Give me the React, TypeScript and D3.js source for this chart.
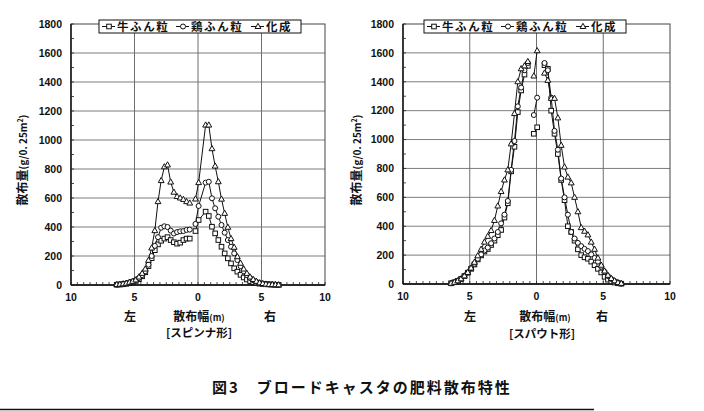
import React from 'react';
import * as d3 from 'd3';

// ---------- data ----------
// distance from centre (m); left = negative. null rows are gaps in the lines.
const spinnerX = [
  -6.4, -6.15, -5.9, -5.65, -5.4, -5.15, -4.9, -4.65, -4.4, -4.15, -3.9, -3.65,
  -3.4, -3.15, -2.9, -2.65, -2.4, -2.15, -1.9, -1.65, -1.4, -1.15, -0.9, -0.65,
  -0.4,
  -0.2, 0.05,
  0.6, 0.85, 1.1, 1.35, 1.6, 1.85, 2.1, 2.35, 2.6, 2.85, 3.1, 3.35,
  3.6, 3.85, 4.1, 4.35, 4.6, 4.85, 5.1, 5.35, 5.6, 5.85, 6.1, 6.35,
];
const spinnerCow = [
  2, 3, 5, 8, 12, 20, 28, 40, 60, 88, 130, 185,
  240, 280, 305, 320, 330, 310, 295, 285, 292, 310, 320, 320,
  null,
  372, 448,
  506, 476, 402, 356, 310, 264, 218, 184, 149, 115, 92, 70,
  52, 38, 27, 19, 13, 9, 7, 5, 4, 3, 2, 1,
];
const spinnerChicken = [
  3, 5, 8, 12, 18, 25, 35, 48, 68, 95, 140, 200,
  270, 330, 395, 405, 400, 375, 355, 365, 370, 372, 380, 382,
  null,
  421, 545,
  706, 712, 598, 529, 471, 414, 361, 310, 264, 218, 172, 130,
  95, 68, 48, 33, 22, 14, 9, 6, 4, 3, 2, 1,
];
const spinnerChem = [
  3, 5, 8, 12, 18, 25, 35, 55, 80, 110, 170, 255,
  375, 575, 720, 815, 828, 710, 640, 610, 600, 590, 575, 565,
  null,
  593, 706,
  1103, 1103, 940, 820, 712, 592, 494, 398, 320, 260, 195, 150,
  110, 80, 55, 38, 25, 15, 10, 6, 4, 3, 2, 1,
];

const spoutX = [
  -6.4, -6.15, -5.9, -5.65, -5.4, -5.15, -4.9, -4.65, -4.4, -4.15, -3.9, -3.65,
  -3.4, -3.15, -2.9, -2.65, -2.4, -2.15, -1.9, -1.65, -1.4, -1.15, -0.9, -0.65,
  -0.4,
  -0.2, 0.05,
  0.35,
  0.6, 0.85, 1.1, 1.35, 1.6, 1.85, 2.1, 2.35, 2.6, 2.85, 3.1, 3.35,
  3.6, 3.85, 4.1, 4.35, 4.6, 4.85, 5.1, 5.35, 5.6, 5.85, 6.1, 6.35,
];
const spoutCow = [
  5, 12, 22, 35, 55, 78, 105, 135, 170, 198, 225, 242,
  270, 300, 338, 374, 460, 559, 780, 950, 1190, 1340, 1450, 1510,
  null,
  1040, 1085,
  null,
  1515, 1490, 1200, 1040, 900, 720, 580, 400, 360, 300, 240, 200,
  185, 175, 155, 130, 105, 80, 50, 30, 18, 10, 5, 2,
];
const spoutChicken = [
  5, 12, 22, 36, 56, 80, 110, 140, 175, 205, 232, 252,
  282, 315, 360, 420, 480, 575, 790, 990, 1230, 1360, 1480, 1530,
  null,
  1170, 1290,
  null,
  1530, 1480, 1290, 1060, 930, 730, 600, 480, 360, 315, 285, 262,
  243, 228, 205, 180, 155, 120, 85, 55, 35, 20, 9, 3,
];
const spoutChem = [
  5, 12, 22, 36, 56, 80, 110, 150, 195, 240, 290, 330,
  370, 440, 540, 640, 720, 790, 970, 1180, 1400, 1490, 1510, 1540,
  null,
  1440, 1615,
  null,
  1460, 1410, 1285, 1285, 1150, 960, 810, 740, 700, 600, 500, 390,
  365, 340, 290, 240, 180, 130, 90, 60, 38, 22, 10, 4,
];

const seriesNames = ['牛ふん粒', '鶏ふん粒', '化成'];
const seriesMarkers = ['square', 'circle', 'triangle'];
const yTicks = [0, 200, 400, 600, 800, 1000, 1200, 1400, 1600, 1800];
const xTicks = [-10, -5, 0, 5, 10];
const xTickLabels = ['10', '5', '0', '5', '10'];
const captions = ['[スピンナ形]', '[スパウト形]'];
const figTitle = '図3　ブロードキャスタの肥料散布特性';

// ---------- layout ----------
const panels = [
  {
    x0: 71, x1: 325, yb: 285, yt: 24,
    xs: spinnerX, series: [spinnerCow, spinnerChicken, spinnerChem],
    caption: captions[0], legendX: 99, yLabelX: 27,
    leftX: 130, rightX: 270, midX: 199, capX: 199, capY: 333,
  },
  {
    x0: 403, x1: 670, yb: 284, yt: 24,
    xs: spoutX, series: [spoutCow, spoutChicken, spoutChem],
    caption: captions[1], legendX: 424, yLabelX: 361,
    leftX: 470, rightX: 602, midX: 545, capX: 542, capY: 334,
  },
];

const NUM_FONT = '"Liberation Sans", Arial, sans-serif';
const JP_FONT = '"Noto Sans CJK JP", "Noto Sans", sans-serif';

function Marker({ type, x, y }: { type: string; x: number; y: number }) {
  const common = { fill: '#fff', stroke: '#111', strokeWidth: 1 };
  if (type === 'square') return <rect x={x - 2.3} y={y - 2.3} width={4.6} height={4.6} {...common} />;
  if (type === 'circle') return <circle cx={x} cy={y} r={2.5} {...common} />;
  return <path d={`M${x},${y - 3.2}L${x + 2.9},${y + 2}L${x - 2.9},${y + 2}Z`} {...common} />;
}

function Panel({ p }: { p: typeof panels[number] }) {
  const xs = d3.scaleLinear().domain([-10, 10]).range([p.x0, p.x1]);
  const ys = d3.scaleLinear().domain([0, 1800]).range([p.yb, p.yt]);
  const minorX = d3.range(-10, 10.01, 0.5);
  const minorY = d3.range(0, 1801, 100);
  const rows = p.xs.map((x, i) => i);

  return (
    <g>
      {/* grid */}
      {yTicks.filter(v => v > 0 && v < 1800).map(v => (
        <line key={'gy' + v} x1={p.x0} x2={p.x1} y1={ys(v)} y2={ys(v)} stroke="#7d7d7d" strokeWidth={1} />
      ))}
      {xTicks.filter(v => v > -10 && v < 10).map(v => (
        <line key={'gx' + v} x1={xs(v)} x2={xs(v)} y1={p.yt} y2={p.yb} stroke="#6f6f6f" strokeWidth={1} />
      ))}
      {/* frame */}
      <rect x={p.x0} y={p.yt} width={p.x1 - p.x0} height={p.yb - p.yt} fill="none" stroke="#444" strokeWidth={1} />
      <line x1={p.x0} x2={p.x0} y1={p.yt} y2={p.yb} stroke="#000" strokeWidth={1.3} />
      <line x1={p.x0} x2={p.x1} y1={p.yb} y2={p.yb} stroke="#000" strokeWidth={1.3} />
      {/* minor ticks */}
      {minorX.map(v => (
        <line key={'mx' + v} x1={xs(v)} x2={xs(v)} y1={p.yb} y2={p.yb - 3} stroke="#222" strokeWidth={0.8} />
      ))}
      {minorY.map(v => (
        <line key={'my' + v} x1={p.x0} x2={p.x0 + 3} y1={ys(v)} y2={ys(v)} stroke="#222" strokeWidth={0.8} />
      ))}
      {/* tick labels */}
      {yTicks.map(v => (
        <text key={'ty' + v} x={p.x0 - 9} y={ys(v)} dy="0.36em" textAnchor="end"
          fontFamily={NUM_FONT} fontWeight={700} fontSize={10.5} fill="#111">{v}</text>
      ))}
      {xTicks.map((v, i) => (
        <text key={'tx' + v} x={xs(v)} y={p.yb + 16} textAnchor="middle"
          fontFamily={NUM_FONT} fontWeight={700} fontSize={10.5} fill="#111">{xTickLabels[i]}</text>
      ))}
      {/* series */}
      {p.series.map((vals, si) => {
        const line = d3.line<number>()
          .defined(i => vals[i] != null)
          .x(i => xs(p.xs[i]))
          .y(i => ys(vals[i] as number));
        return <path key={'l' + si} d={line(rows) || ''} fill="none" stroke="#111" strokeWidth={1} />;
      })}
      {p.series.map((vals, si) => (
        <g key={'m' + si}>
          {rows.filter(i => vals[i] != null).map(i => (
            <Marker key={i} type={seriesMarkers[si]} x={xs(p.xs[i])} y={ys(vals[i] as number)} />
          ))}
        </g>
      ))}
      {/* legend */}
      <g transform={`translate(${p.legendX},20)`}>
        <rect x={0} y={0} width={202} height={13} fill="#fff" stroke="#111" strokeWidth={1} />
        {seriesNames.map((name, si) => {
          const off = [3, 77, 152][si];
          return (
            <g key={'lg' + si} transform={`translate(${off},0)`}>
              <line x1={0} x2={13} y1={6.5} y2={6.5} stroke="#111" strokeWidth={1} />
              <Marker type={seriesMarkers[si]} x={7} y={6.5} />
              <text x={15} y={11} fontFamily={JP_FONT} fontWeight={700} fontSize={11.5}
                letterSpacing={1.6} fill="#111">{name}</text>
            </g>
          );
        })}
      </g>
      {/* y axis label */}
      <text transform={`translate(${p.yLabelX},160) rotate(-90)`} textAnchor="middle"
        fontFamily={JP_FONT} fontWeight={700} fontSize={12} fill="#111">
        散布量<tspan fontSize={10}>(g/0. 25m</tspan><tspan fontSize={7} dy={-4}>2</tspan><tspan fontSize={10} dy={4}>)</tspan>
      </text>
      {/* x labels */}
      <text x={p.leftX} y={321} textAnchor="middle" fontFamily={JP_FONT} fontWeight={700} fontSize={12} fill="#111">左</text>
      <text x={p.rightX} y={321} textAnchor="middle" fontFamily={JP_FONT} fontWeight={700} fontSize={12} fill="#111">右</text>
      <text x={p.midX} y={321} textAnchor="middle" fontFamily={JP_FONT} fontWeight={700} fontSize={12} fill="#111">
        散布幅<tspan fontSize={9}>(m)</tspan>
      </text>
      <text x={p.capX} y={p.capY + 4} textAnchor="middle" fontFamily={JP_FONT} fontWeight={700} fontSize={11.5} fill="#111">
        {p.caption}
      </text>
    </g>
  );
}

export default function App() {
  return (
    <svg width={704} height={411} viewBox="0 0 704 411"
      style={{ position: 'absolute', left: 0, top: 0, background: '#fff' }}>
      <rect x={0} y={0} width={704} height={411} fill="#fff" />
      {panels.map((p, i) => <Panel key={i} p={p} />)}
      <text x={212} y={393} fontFamily={JP_FONT} fontWeight={700} fontSize={15} letterSpacing={2} fill="#111">
        {figTitle}
      </text>
      <line x1={0} x2={594} y1={409.5} y2={409.5} stroke="#111" strokeWidth={1.5} />
    </svg>
  );
}
